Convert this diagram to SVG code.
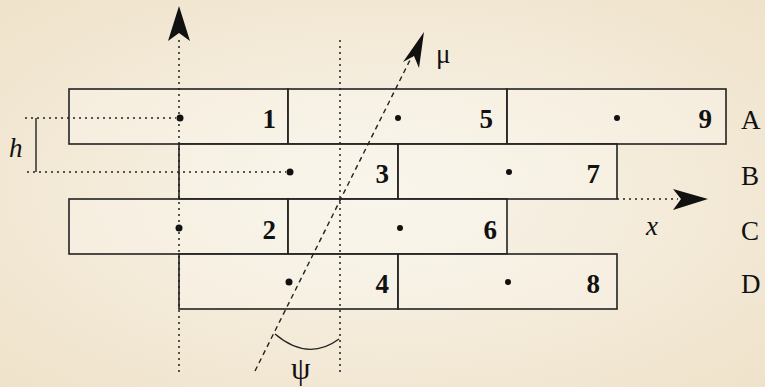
<svg xmlns="http://www.w3.org/2000/svg" width="765" height="387" viewBox="0 0 765 387">
<defs>
<style>
.cell{fill:#fbf8f0;fill-opacity:0.35;stroke:#222;stroke-width:1.6}
.num{font-family:"Liberation Serif","Times New Roman","DejaVu Serif",serif;font-weight:bold;font-size:27px;fill:#111;text-anchor:end}
.row{font-family:"Liberation Serif","Times New Roman","DejaVu Serif",serif;font-size:27px;fill:#111}
.it{font-family:"Liberation Serif","Times New Roman","DejaVu Serif",serif;font-style:italic;font-size:27px;fill:#111}
.gr{font-family:"Liberation Serif","Times New Roman","DejaVu Serif",serif;font-size:27px;fill:#111}
.dot{fill:#111}
.dotted{stroke:#222;stroke-width:1.5;stroke-dasharray:2 4;fill:none}
.dashed{stroke:#222;stroke-width:1.4;stroke-dasharray:5 4;fill:none}
</style>
<radialGradient id="bg" cx="0.5" cy="0.5" r="0.75">
<stop offset="0" stop-color="#f8f4ea"/>
<stop offset="1" stop-color="#efe1c8"/>
</radialGradient>
</defs>
<rect x="0" y="0" width="765" height="387" fill="url(#bg)"/>
<g id="nodes">
<g id="n1"><rect class="cell" x="69" y="89" width="219" height="55"/><circle class="dot" cx="180" cy="118" r="3.5"/><text class="num" x="276" y="128">1</text></g>
<g id="n5"><rect class="cell" x="288" y="89" width="219" height="55"/><circle class="dot" cx="398" cy="118" r="3"/><text class="num" x="493" y="128">5</text></g>
<g id="n9"><rect class="cell" x="507" y="89" width="219" height="55"/><circle class="dot" cx="617" cy="118" r="3"/><text class="num" x="712" y="128">9</text></g>
<g id="n3"><rect class="cell" x="179" y="144" width="219" height="55"/><circle class="dot" cx="290" cy="172" r="3.5"/><text class="num" x="389" y="183">3</text></g>
<g id="n7"><rect class="cell" x="398" y="144" width="219" height="55"/><circle class="dot" cx="509" cy="172" r="3"/><text class="num" x="600" y="183">7</text></g>
<g id="n2"><rect class="cell" x="69" y="199" width="219" height="55"/><circle class="dot" cx="179" cy="228" r="3.5"/><text class="num" x="276" y="239">2</text></g>
<g id="n6"><rect class="cell" x="288" y="199" width="219" height="55"/><circle class="dot" cx="400" cy="228" r="3"/><text class="num" x="497" y="239">6</text></g>
<g id="n4"><rect class="cell" x="179" y="254" width="219" height="55"/><circle class="dot" cx="289" cy="282" r="3.5"/><text class="num" x="389" y="293">4</text></g>
<g id="n8"><rect class="cell" x="398" y="254" width="219" height="55"/><circle class="dot" cx="508" cy="282" r="3"/><text class="num" x="600" y="293">8</text></g>
</g>
<g id="labels">
<text class="row" x="741" y="129">A</text>
<text class="row" x="741" y="185">B</text>
<text class="row" x="741" y="240">C</text>
<text class="row" x="741" y="293">D</text>
<text class="it" x="9" y="157">h</text>
<text class="it" x="646" y="235">x</text>
<text class="gr" x="436" y="63">μ</text>
<text class="gr" x="291" y="379" style="font-size:31px">ψ</text>
</g>
<g id="connectors">
<line class="dotted" x1="179" y1="372" x2="179" y2="38"/>
<path d="M179,6 L168,41 L179,33 L190,41 Z" fill="#111"/>
<line class="dotted" x1="340" y1="372" x2="340" y2="37"/>
<line class="dashed" x1="255" y1="371" x2="414" y2="52"/>
<path d="M424,32 L419,68 L414,56 L403,62 Z" fill="#111"/>
<line class="dotted" x1="617" y1="199" x2="678" y2="199"/>
<path d="M708,199 L673,189 L681,199 L673,210 Z" fill="#111"/>
<line class="dotted" x1="25" y1="118" x2="176" y2="118"/>
<line class="dotted" x1="27" y1="172" x2="286" y2="172"/>
<line x1="36" y1="118" x2="36" y2="172" stroke="#222" stroke-width="1.4"/>
<path d="M275,334 Q308,362 339,339" fill="none" stroke="#222" stroke-width="1.4"/>
</g>
</svg>
